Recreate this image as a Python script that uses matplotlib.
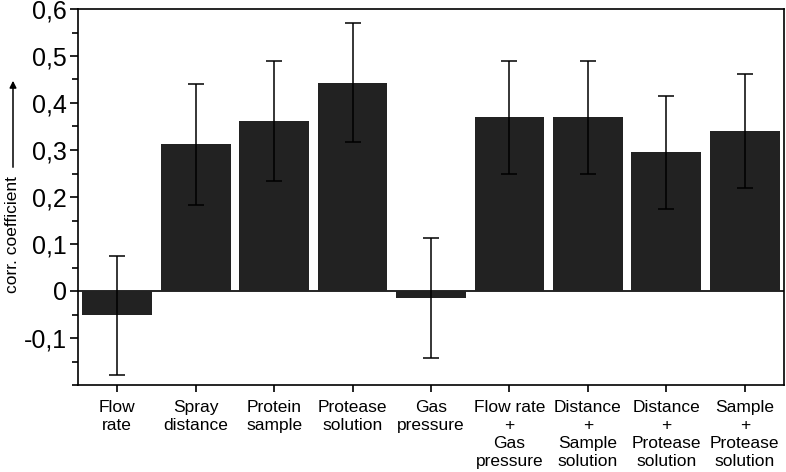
import numpy as np
import matplotlib
matplotlib.use('Agg')
import matplotlib.pyplot as plt
from matplotlib.ticker import MultipleLocator, FuncFormatter

plt.rcParams['font.family'] = ['Liberation Sans', 'DejaVu Sans']

# data
labels = ['Flow\nrate', 'Spray\ndistance', 'Protein\nsample', 'Protease\nsolution',
          'Gas\npressure', 'Flow rate\n+\nGas\npressure', 'Distance\n+\nSample\nsolution',
          'Distance\n+\nProtease\nsolution', 'Sample\n+\nProtease\nsolution']
corr = [-0.052, 0.312, 0.362, 0.443, -0.015, 0.370, 0.370, 0.295, 0.341]
err = [0.127, 0.129, 0.128, 0.127, 0.128, 0.120, 0.120, 0.120, 0.121]

W, H = 786, 472
fig = plt.figure(figsize=(W / 100, H / 100), dpi=100)
ax = fig.add_axes([78 / W, 1 - 385 / H, (784 - 78) / W, (385 - 9) / H])

x = np.arange(len(corr))
ax.bar(x, corr, width=0.89, color='#222222', zorder=2)
ax.errorbar(x, corr, yerr=err, fmt='none', ecolor='black', elinewidth=1.1,
            capsize=6, capthick=1.1, zorder=3)
ax.axhline(0, color='black', lw=1.2, zorder=1)

ax.set_xlim(-0.5, len(corr) - 0.5)
ax.set_ylim(-0.2, 0.6)
ax.yaxis.set_minor_locator(MultipleLocator(0.05))
ax.yaxis.set_major_formatter(FuncFormatter(
    lambda v, p: '0' if abs(v) < 1e-9 else ('%.1f' % v).replace('.', ',')))
ax.set_yticks(np.arange(-0.1, 0.61, 0.1))
ax.tick_params(axis='y', which='major', direction='out', length=6, width=1.2,
               labelsize=18, pad=2)
ax.tick_params(axis='y', which='minor', direction='out', length=4, width=1.2)
ax.set_xticks(x)
ax.set_xticklabels(labels, fontsize=12.5, linespacing=1.25)
ax.tick_params(axis='x', direction='out', length=5, width=1.2, pad=6)
for s in ax.spines.values():
    s.set_linewidth(1.2)

fig.text(13 / W, 1 - 293 / H, 'corr. coefficient', rotation=90, fontsize=12.5,
         ha='center', va='bottom')
fig.patches.append(matplotlib.patches.FancyArrowPatch(
    (13 / W, 1 - 170 / H), (13 / W, 1 - 78 / H), transform=fig.transFigure,
    arrowstyle='-|>', mutation_scale=10, lw=1.1, color='black'))

fig.savefig('out.png', dpi=100)
